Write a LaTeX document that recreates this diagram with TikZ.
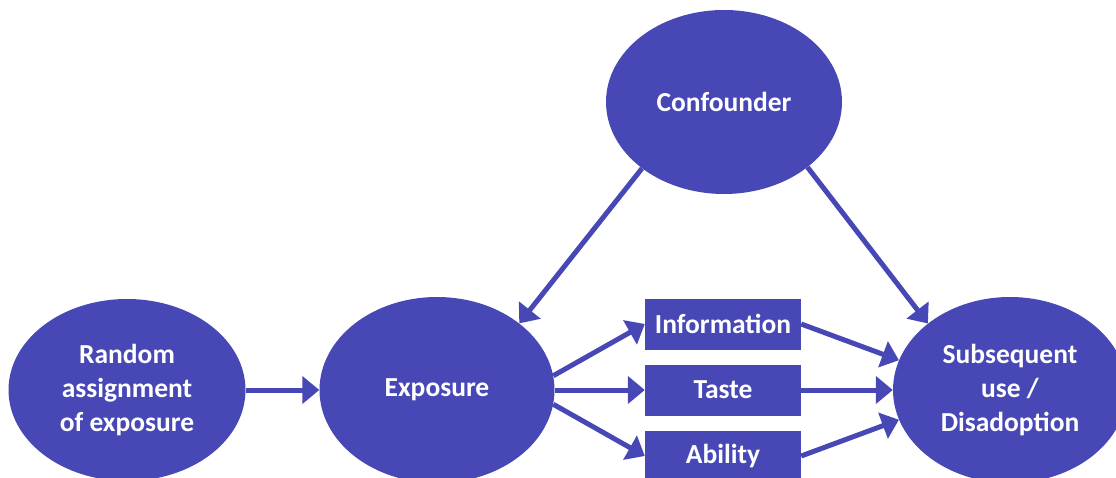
\documentclass[tikz,border=0pt]{standalone}
\usepackage{fontspec}
\setmainfont{Carlito}
\usetikzlibrary{arrows.meta,shapes.geometric}
\definecolor{violetblue}{RGB}{71,72,182}
\begin{document}
\begin{tikzpicture}[x=1pt,y=-1pt,
      blob/.style={ellipse,fill=violetblue,inner sep=0pt,text=white,align=center,
         font=\bfseries\fontsize{27.5}{34}\selectfont},
      tag/.style={rectangle,fill=violetblue,inner sep=0pt,text=white,
         minimum width=156pt,minimum height=51pt,font=\bfseries\fontsize{27.5}{34}\selectfont},
      link/.style={-{Triangle[length=17pt,width=27pt]},line width=5pt,violetblue}]
            \useasboundingbox (0,0) rectangle (1116,478);
            \node[blob,minimum width=236pt,minimum height=184pt] (conf) at (724,102) {Confounder};
            \node[blob,minimum width=237pt,minimum height=182pt] (rand) at (127,390) {Random\\assignment\\of exposure};
            \node[blob,minimum width=235pt,minimum height=186pt] (expo) at (437,390) {Exposure};
            \node[blob,minimum width=234pt,minimum height=186pt] (subs) at (1010,390) {Subsequent\\use /\\Disadoption};
            \node[tag] (info) at (723,324) {Information};
            \node[tag] (taste) at (723,390) {Taste};
            \node[tag] (abil) at (723,456) {Ability};
            \draw[link] (rand.east) -- (expo.west);
            \draw[link] (expo.7) -- (info.west);
            \draw[link] (expo.east) -- (taste.west);
            \draw[link] (expo.-7) -- (abil.west);
            \draw[link] (info.east) -- (subs.165);
            \draw[link] (taste.east) -- (subs.west);
            \draw[link] (abil.east) -- (subs.195);
            \draw[link] (conf.219) -- (expo.39);
            \draw[link] (conf.-38) -- (subs.141);
         \end{tikzpicture}
\end{document}
